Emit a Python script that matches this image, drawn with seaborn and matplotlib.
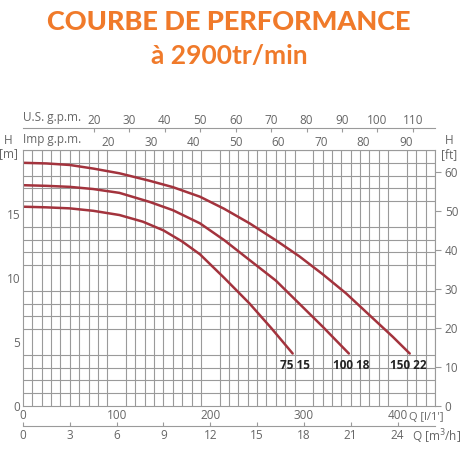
import numpy as np
import pandas as pd
import matplotlib
matplotlib.use("Agg")
import matplotlib.pyplot as plt
import seaborn as sns

# Q in l/min, H in m
q_150 = [0, 25, 50, 75, 103, 135, 160, 189, 215, 242, 270, 295, 320, 345, 370, 395, 413]
h_150 = [19.0, 18.95, 18.83, 18.55, 18.18, 17.6, 17.1, 16.35, 15.4, 14.27, 12.95, 11.7, 10.3, 8.8, 7.1, 5.4, 4.1]
q_100 = [0, 25, 50, 75, 103, 135, 160, 189, 215, 242, 270, 295, 320, 348]
h_100 = [17.25, 17.2, 17.12, 16.95, 16.65, 15.95, 15.3, 14.27, 12.95, 11.4, 9.8, 8.0, 6.2, 4.1]
q_75 = [0, 25, 50, 75, 103, 128, 150, 170, 189, 215, 242, 265, 288]
h_75 = [15.57, 15.52, 15.44, 15.25, 14.92, 14.4, 13.72, 12.85, 11.85, 10.0, 8.0, 6.1, 4.1]
models = ["150 22", "100 18", "75 15"]
label_q = [411, 351, 290]

q_ticks = [0, 100, 200, 300, 400]
m3h_ticks = [0, 3, 6, 9, 12, 15, 18, 21, 24]
us_ticks = [20, 30, 40, 50, 60, 70, 80, 90, 100, 110]
imp_ticks = [20, 30, 40, 50, 60, 70, 80, 90]
m_ticks = [0, 5, 10, 15]
ft_ticks = [0, 10, 20, 30, 40, 50, 60]

df = pd.concat([
    pd.DataFrame({"Q": q_150, "H": h_150, "model": models[0]}),
    pd.DataFrame({"Q": q_100, "H": h_100, "model": models[1]}),
    pd.DataFrame({"Q": q_75, "H": h_75, "model": models[2]}),
])

sns.set_style("white")
plt.rcParams["font.family"] = ["Open Sans", "DejaVu Sans"]

grey = "#9a9a9a"
txt = "#666666"
curve = "#a3333d"
orange = "#f07a2a"
fs = 8.5

fig = plt.figure(figsize=(4.7, 4.7), dpi=100)
ax = fig.add_axes([23 / 470, 64 / 470, 412 / 470, 256 / 470])

sns.lineplot(data=df, x="Q", y="H", hue="model", palette=[curve] * 3,
             legend=False, linewidth=1.8, sort=False, ax=ax, estimator=None)

ax.set_xlim(0, 440)
ax.set_ylim(0, 20)
ax.set_xticks(np.arange(0, 441, 10), minor=True)
ax.set_yticks(np.arange(0, 21, 1), minor=True)
ax.grid(which="minor", color=grey, linewidth=0.8)
ax.set_xticks(q_ticks)
ax.set_yticks(m_ticks)
ax.set_xlabel("")
ax.set_ylabel("")
ax.tick_params(which="both", length=0, colors=txt, labelsize=fs, pad=2)
for s in ax.spines.values():
    s.set_color(grey)
    s.set_linewidth(0.8)

for m, x in zip(models, label_q):
    ax.text(x, 3.2, m, ha="center", va="center", fontsize=8.5,
            fontweight="bold", color="#222222")

# right axis in feet
ax_ft = ax.twinx()
ax_ft.set_ylim(0, 20 / 0.3048)
ax_ft.set_yticks(ft_ticks)
ax_ft.tick_params(length=4, colors=txt, labelsize=fs, pad=3, color=grey)
for s in ax_ft.spines.values():
    s.set_visible(False)
ax_ft.grid(False)

# bottom m3/h axis
ax_m3 = ax.secondary_xaxis(-0.078, functions=(lambda q: q * 0.06, lambda v: v / 0.06))
ax_m3.set_xticks(m3h_ticks)
ax_m3.tick_params(length=3, direction="in", colors=txt, labelsize=fs, pad=2, color=grey)
ax_m3.spines["bottom"].set_color(grey)

# top gpm axes
ax_imp = ax.secondary_xaxis(1.0, functions=(lambda q: q / 4.546, lambda v: v * 4.546))
ax_imp.set_xticks(imp_ticks)
ax_imp.tick_params(length=0, colors=txt, labelsize=fs, pad=1)
ax_imp.spines["top"].set_visible(False)

ax_us = ax.secondary_xaxis(1.086, functions=(lambda q: q / 3.785, lambda v: v * 3.785))
ax_us.set_xticks(us_ticks)
ax_us.tick_params(length=3, direction="in", colors=txt, labelsize=fs, pad=1, color=grey)
ax_us.spines["top"].set_color(grey)

fig.text(23 / 470, 1 - 118 / 470, "U.S. g.p.m.", ha="left", va="center", fontsize=fs, color=txt)
fig.text(23 / 470, 1 - 140 / 470, "Imp g.p.m.", ha="left", va="center", fontsize=fs, color=txt)
fig.text(8 / 470, 1 - 140 / 470, "H", ha="center", va="center", fontsize=fs, color=txt)
fig.text(8 / 470, 1 - 154 / 470, "[m]", ha="center", va="center", fontsize=fs, color=txt)
fig.text(449 / 470, 1 - 140 / 470, "H", ha="center", va="center", fontsize=fs, color=txt)
fig.text(449 / 470, 1 - 155 / 470, "[ft]", ha="center", va="center", fontsize=fs, color=txt)
fig.text(444 / 470, 1 - 418 / 470, "Q [l/1']", ha="right", va="center", fontsize=8, color=txt)
fig.text(412 / 470, 1 - 437 / 470, "Q [m$^3$/h]", ha="left", va="center", fontsize=fs, color=txt)

fig.text(0.487, 1 - 22 / 470, "COURBE DE PERFORMANCE", ha="center", va="center",
         fontsize=19.5, fontweight=900, color=orange, family=["Lato", "DejaVu Sans"])
fig.text(0.487, 1 - 56 / 470, "à 2900tr/min", ha="center", va="center",
         fontsize=19, fontweight="bold", color=orange, family=["Lato", "DejaVu Sans"])

fig.savefig("out.png", dpi=100, facecolor="white")
